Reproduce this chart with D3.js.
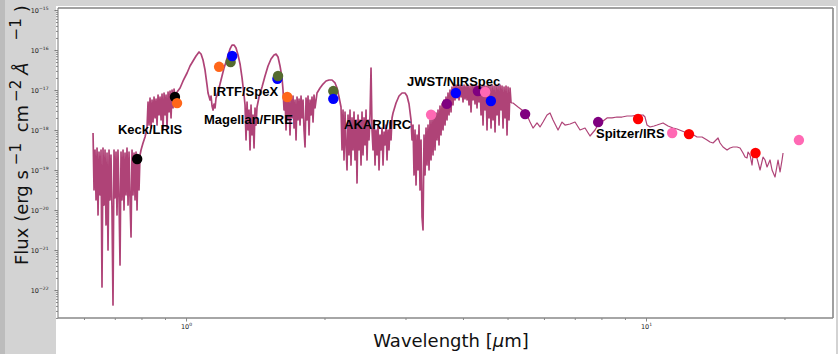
<!DOCTYPE html>
<html>
<head>
<meta charset="utf-8">
<script src="https://cdn.jsdelivr.net/npm/d3@7"></script>
<style>
  html, body { margin: 0; padding: 0; background: #fff; }
  svg { display: block; }
</style>
</head>
<body>
<svg id="chart" width="838" height="354"></svg>
<script>
// Model spectrum: wavelength (micron) and flux density (erg s^-1 cm^-2 A^-1)
const specWave = [
  0.6278,0.6309,0.6341,0.6373,0.6405,0.6437,0.6469,0.6501,0.6534,0.6566,
  0.6599,0.6633,0.6666,0.6699,0.6733,0.6767,0.6801,0.6834,0.6868,0.6903,
  0.6938,0.6973,0.7007,0.7043,0.7078,0.7113,0.7149,0.7186,0.7222,0.7258,
  0.7295,0.7331,0.7368,0.7405,0.7442,0.7480,0.7517,0.7555,0.7593,0.7631,
  0.7669,0.7708,0.7747,0.7786,0.7825,0.7864,0.7903,0.7943,
  0.7983,0.8063,0.8144,0.8226,0.8268,0.8309,0.8351,0.8393,0.8435,0.8477,
  0.8520,0.8563,0.8606,0.8649,0.8692,0.8736,0.8780,0.8824,0.8868,0.8913,
  0.8958,0.9003,0.9048,0.9093,0.9139,0.9185,0.9231,0.9277,0.9324,0.9371,
  0.9418,0.9465,0.9560,0.9705,0.9852,1.0051,1.0202,1.0356,1.0513,1.0672,
  1.0780,1.0888,1.0998,1.1109,1.1164,1.1277,1.1334,1.1390,1.1448,1.1505,
  1.1563,1.1621,1.1737,1.1855,1.1974,1.2095,1.2216,1.2339,1.2464,1.2589,
  1.2716,1.2844,1.2973,1.3104,1.3236,1.3369,
  1.3436,1.3504,1.3572,1.3640,1.3708,1.3776,1.3845,1.3915,1.3985,1.4055,
  1.4125,1.4196,1.4268,1.4411,1.4629,1.4850,1.5075,1.5303,1.5535,1.5692,
  1.5849,1.6008,1.6169,1.6250,
  1.6332,1.6414,1.6496,1.6579,1.6662,1.6746,1.6830,1.6914,1.7000,1.7085,
  1.7171,1.7257,1.7344,1.7431,1.7518,1.7606,1.7694,1.7783,1.7872,1.7962,
  1.8052,1.8143,1.8234,1.8325,1.8417,1.8510,1.8602,1.8696,1.8789,1.8884,
  1.8978,1.9074,1.9265,1.9557,1.9853,2.0154,2.0458,2.0768,2.1081,2.1294,
  2.1508,2.1724,
  2.1833,2.1943,2.2053,2.2164,2.2275,2.2387,2.2500,2.2613,2.2725,2.2839,
  2.2954,2.3069,2.3185,2.3301,2.3418,2.3536,2.3654,2.3773,2.3892,2.4012,
  2.4132,2.4254,2.4375,2.4498,2.4621,2.4744,2.4869,2.4993,2.5119,2.5245,
  2.5372,2.5499,2.5627,2.5756,2.5885,2.6015,2.6145,2.6277,2.6408,2.6541,
  2.6674,2.6808,2.6943,2.7078,2.7214,2.7350,2.7487,2.7625,2.7764,2.7903,
  2.8043,2.8184,
  2.8612,2.9044,2.9483,2.9929,3.0231,3.0535,3.0842,3.0997,3.1152,3.1309,
  3.1466,3.1624,3.1783,3.1942,3.2102,3.2263,3.2425,3.2588,3.2751,3.2915,
  3.3081,3.3247,3.3414,3.3581,3.3750,3.3919,3.4089,3.4260,3.4432,3.4605,
  3.4779,3.4953,3.5128,3.5305,3.5482,3.5660,
  3.5839,3.6019,3.6199,3.6381,3.6564,3.6747,3.6931,3.7117,3.7303,3.7491,
  3.7679,3.7868,3.8058,3.8249,3.8441,3.8634,3.8828,3.9023,3.9219,3.9415,
  3.9613,3.9812,4.0012,4.0212,4.0414,4.0617,4.0821,4.1026,4.1232,4.1439,
  4.1647,4.1856,4.2066,4.2277,4.2490,4.2703,4.2917,4.3133,4.3349,4.3566,
  4.3785,4.4005,4.4226,4.4448,4.4671,4.4895,4.5120,4.5347,4.5574,4.5803,
  4.6033,4.6264,4.6497,4.6730,4.6965,4.7200,4.7437,4.7675,4.7914,4.8154,
  4.8396,4.8639,4.8883,4.9129,4.9375,4.9623,4.9872,5.0123,5.0374,5.0626,
  5.0880,
  5.1394,5.2696,5.3761,5.4849,5.5958,5.6805,5.7955,5.8831,5.9722,6.0930,
  6.1851,6.2787,6.4379,6.5681,6.6675,6.8364,7.0098,7.1874,7.3697,7.5563,
  7.7479,7.9047,8.0646,8.2278,8.4362,8.6501,8.8693,9.0942,9.3247,9.5611,
  9.8525,9.9517,10.052,10.204,10.411,10.568,10.727,10.889,11.166,11.449,
  11.680,11.976,12.280,12.592,12.911,13.238,13.574,13.779,13.988,14.199,
  14.342,14.486,14.705,15.003,15.230,15.461,15.773,16.012,16.254,16.418,
  16.583,16.667,16.834,17.004,17.089,17.348,17.522,17.698,17.966,18.147,
  18.329,18.606,18.793,19.078,19.367,19.562,19.759,19.858
];
const specFlux = [
  8.41e-19,3.16e-20,3.16e-19,1.78e-20,3.55e-19,7.50e-21,2.82e-19,2.37e-20,3.16e-19,1.19e-22,
  3.55e-19,1.33e-20,3.16e-19,4.22e-21,2.66e-19,1e-21,3.16e-19,1.78e-20,2.37e-19,1e-20,
  4.22e-23,3.16e-19,2.00e-20,2.82e-19,7.50e-21,3.16e-19,2.24e-20,4.22e-22,2.82e-19,1.78e-20,
  3.16e-19,1e-20,2.66e-19,2.37e-20,3.55e-19,1.33e-20,2.82e-19,1.78e-20,2.11e-21,3.16e-19,
  2.37e-20,2.66e-19,1.78e-20,2.82e-19,1e-20,2.24e-19,3.16e-20,2.37e-19,
  3.16e-19,4.73e-19,6.68e-19,1.12e-18,5.01e-18,1.33e-18,6.31e-18,1.12e-18,5.62e-18,1.58e-18,
  6.68e-18,2.00e-18,5.96e-18,1.33e-18,7.50e-18,2.37e-18,6.68e-18,1.78e-18,7.94e-18,1e-18,
  8.41e-18,2.37e-18,7.50e-18,1.12e-18,8.91e-18,2.82e-18,9.44e-18,2.00e-18,1e-17,3.55e-18,
  1.06e-17,5.62e-18,8.91e-18,1.12e-17,1.68e-17,2.66e-17,3.98e-17,5.31e-17,7.08e-17,8.91e-17,
  7.94e-17,5.62e-17,3.16e-17,1.33e-17,8.41e-18,5.62e-18,7.08e-18,3.98e-18,3.16e-18,4.47e-18,
  3.55e-18,6.31e-18,8.91e-18,1.41e-17,2.24e-17,3.55e-17,5.01e-17,7.50e-17,1.06e-16,1.33e-16,
  1.33e-16,1.12e-16,7.50e-17,4.47e-17,2.00e-17,7.50e-18,
  4.22e-18,5.62e-19,5.01e-18,1e-18,3.16e-18,3.16e-19,4.22e-18,7.50e-19,2.37e-18,3.55e-19,
  3.55e-18,1.33e-18,3.76e-18,6.68e-18,1.19e-17,2.24e-17,3.98e-17,5.96e-17,7.50e-17,7.94e-17,
  6.68e-17,3.98e-17,2.00e-17,1e-17,
  3.16e-18,7.50e-18,1e-18,6.68e-18,1.78e-18,5.62e-18,7.50e-19,6.31e-18,2.00e-18,7.08e-18,
  1.12e-18,5.62e-18,5.62e-19,6.68e-18,1.78e-18,5.96e-18,1.33e-18,7.08e-18,2.00e-18,5.62e-18,
  1e-18,3.76e-19,6.31e-18,1.78e-18,7.08e-18,7.50e-19,5.62e-18,2.37e-18,6.68e-18,1.58e-18,
  7.50e-18,3.55e-18,8.41e-18,1.12e-17,1.41e-17,1.68e-17,1.78e-17,1.78e-17,1.50e-17,1.12e-17,
  6.68e-18,3.76e-18,
  3.16e-19,3.16e-18,1.78e-19,2.82e-18,4.22e-19,1e-19,2.37e-18,2.37e-19,3.16e-18,1.33e-19,
  2.00e-18,3.16e-19,2.82e-18,1.78e-19,1.78e-18,4.73e-20,2.37e-18,3.16e-19,1.78e-18,1.33e-19,
  2.82e-18,2.37e-19,2.00e-18,4.22e-19,3.16e-18,1.78e-19,1.78e-18,5.62e-19,2.37e-18,3.55e-17,
  1e-18,3.16e-19,1.78e-18,1.33e-19,1e-18,2.37e-19,1.33e-18,1e-19,7.50e-19,3.16e-19,
  1.12e-18,1.33e-19,8.91e-19,4.22e-19,1.33e-18,1.78e-19,1e-18,3.16e-19,1.58e-18,5.62e-19,
  2.00e-18,2.66e-18,
  4.73e-18,7.08e-18,8.41e-18,8.41e-18,7.08e-18,4.47e-18,1.78e-18,5.62e-19,1.33e-18,7.50e-20,
  1e-18,4.22e-20,7.50e-19,1e-19,1.33e-18,3.16e-20,5.62e-19,6.68e-21,3.16e-21,7.50e-19,
  7.50e-20,1.12e-18,1.33e-19,1.33e-18,1e-19,1.78e-18,1.78e-19,2.00e-18,2.37e-19,2.37e-18,
  3.16e-19,2.66e-18,5.62e-19,3.16e-18,4.22e-19,3.98e-18,
  7.50e-19,4.47e-18,1e-18,5.62e-18,1.33e-18,6.68e-18,1.78e-18,8.41e-18,2.37e-18,1e-17,
  2.82e-18,1.19e-17,4.22e-18,1.26e-17,5.62e-18,1.33e-17,6.31e-18,1.26e-17,5.62e-18,1.33e-17,
  6.68e-18,1.26e-17,5.01e-18,1.33e-17,5.96e-18,1.26e-17,5.62e-18,1.33e-17,4.22e-18,1.26e-17,
  2.82e-18,1.33e-17,5.62e-18,1.26e-17,4.47e-18,1.33e-17,3.55e-18,1.26e-17,5.01e-18,1.33e-17,
  2.37e-18,1.26e-17,1.33e-18,1.33e-17,3.16e-18,1.26e-17,1e-18,1.33e-17,2.00e-18,1.26e-17,
  1.12e-18,1.33e-17,1.78e-18,1.26e-17,8.91e-19,1.33e-17,2.37e-18,1.26e-17,1.33e-18,1.33e-17,
  3.16e-18,1.26e-17,1.12e-18,1.19e-17,2.00e-18,1.26e-17,7.50e-19,1.19e-17,1.78e-18,1.12e-17,
  4.73e-18,
  4.73e-18,3.76e-18,3.16e-18,2.66e-18,1.58e-18,1.12e-18,1.50e-18,1.19e-18,1.58e-18,2.37e-18,
  2.66e-18,1.78e-18,1e-18,1.58e-18,1.33e-18,1.41e-18,1.58e-18,1e-18,1.12e-18,7.08e-19,
  1e-18,1.50e-18,1.68e-18,2.00e-18,2.00e-18,2.11e-18,2.11e-18,2.24e-18,2.24e-18,2.37e-18,
  2.37e-18,2.11e-18,1.33e-18,1.19e-18,1.26e-18,1.33e-18,1.41e-18,1.50e-18,1.26e-18,1.12e-18,
  1.06e-18,9.44e-19,8.41e-19,7.94e-19,6.68e-19,6.68e-19,5.62e-19,5.01e-19,4.73e-19,5.62e-19,
  6.31e-19,4.73e-19,3.76e-19,3.16e-19,3.55e-19,3.76e-19,3.76e-19,3.55e-19,2.66e-19,2.11e-19,
  2.00e-19,2.82e-19,2.37e-19,1.33e-19,2.37e-19,2.37e-19,1.58e-19,1e-19,2.11e-19,1.78e-19,
  1.19e-19,1.78e-19,1e-19,6.68e-20,1.78e-19,8.91e-20,1.78e-19,2.66e-19
];
// the spectrograph data (dense, noisy) end here; the IRS part follows
const denseEndWave = 5.0880;

// Photometric points: wavelength, flux and the catalogue each one comes from
const photWave = [0.783, 0.946, 0.956, 1.18, 1.25, 1.26, 1.58, 1.585, 1.66, 2.09, 2.09,
                  3.41, 3.69, 3.86, 4.31, 4.47, 4.60, 5.46, 7.87, 9.61, 11.4, 12.4, 17.3, 21.5];
const photFlux = [1.88e-19, 6.7e-18, 4.7e-18, 3.8e-17, 5.0e-17, 7.1e-17, 1.9e-17, 2.24e-17, 6.7e-18, 9.4e-18, 6.0e-18,
                  2.4e-18, 4.5e-18, 8.4e-18, 9.4e-18, 8.9e-18, 5.3e-18, 2.5e-18, 1.58e-18, 1.88e-18, 8.4e-19, 7.9e-19, 2.66e-19, 5.6e-19];
const photSet  = ['s1','s1','s2','s2','s3','s4','s4','s3','s2','s3','s4',
                  's6','s5','s4','s5','s6','s4','s5','s5','s7','s6','s7','s7','s6'];

// Instrument annotations (left edge and baseline in data units)
const labelText = ['Keck/LRIS', 'IRTF/SpeX', 'Magellan/FIRE', 'AKARI/IRC', 'JWST/NIRSpec', 'Spitzer/IRS'];
const labelWave = [0.711, 1.145, 1.094, 2.206, 3.023, 7.785];
const labelFlux = [7.94e-19, 7.08e-18, 1.41e-18, 1.06e-18, 1.26e-17, 6.31e-19];

// Axis ticks
const xMajorTicks = [1, 10];
const xMinorTicks = [0.6, 0.7, 0.8, 0.9, 2, 3, 4, 5, 6, 7, 8, 9, 20];
const yMajorTicks = [1e-22, 1e-21, 1e-20, 1e-19, 1e-18, 1e-17, 1e-16, 1e-15];

const setColor = d3.scaleOrdinal()
  .domain(['s1','s2','s3','s4','s5','s6','s7'])
  .range(['#000000','#ff661a','#556b2f','#0000ff','#800080','#ff69b4','#ff0000']);

const svg = d3.select('#chart');
const X0 = 58, X1 = 833, Y0 = 8, Y1 = 318;

const x = d3.scaleLog().domain([0.5268, 25.5]).range([X0, X1]);
const y = d3.scaleLog().domain([Math.pow(10, -22.7), Math.pow(10, -14.95)]).range([Y1, Y0]);

// page background and white plotting region
svg.append('rect').attr('width', 838).attr('height', 354).attr('fill', '#d3d3d3');
svg.append('rect').attr('x', 0).attr('y', 0).attr('width', 5).attr('height', 354).attr('fill', '#bcbcbc');
svg.append('rect').attr('x', 56).attr('y', 6).attr('width', 780).attr('height', 348).attr('fill', '#ffffff');

svg.append('defs').append('clipPath').attr('id', 'plotclip')
  .append('rect').attr('x', X0).attr('y', Y0).attr('width', X1 - X0).attr('height', Y1 - Y0);

// spectrum: the dense spectrograph part and the sparser mid-IR part
const spectrum = d3.zip(specWave, specFlux);
const line = d3.line().x(d => x(d[0])).y(d => y(d[1]));
const specG = svg.append('g').attr('clip-path', 'url(#plotclip)');
specG.append('path')
  .datum(spectrum.filter(d => d[0] <= denseEndWave))
  .attr('d', line)
  .attr('fill', 'none')
  .attr('stroke', '#a8336b')
  .attr('stroke-opacity', 0.92)
  .attr('stroke-width', 1.7)
  .attr('stroke-linejoin', 'round');
specG.append('path')
  .datum(spectrum.filter(d => d[0] >= denseEndWave))
  .attr('d', line)
  .attr('fill', 'none')
  .attr('stroke', '#a8336b')
  .attr('stroke-opacity', 0.92)
  .attr('stroke-width', 1.2)
  .attr('stroke-linejoin', 'round');

// photometry
const phot = d3.range(photWave.length).map(i => ({w: photWave[i], f: photFlux[i], s: photSet[i]}));
svg.append('g').selectAll('circle')
  .data(phot)
  .join('circle')
  .attr('cx', d => x(d.w))
  .attr('cy', d => y(d.f))
  .attr('r', 5.2)
  .attr('fill', d => setColor(d.s));

// instrument labels
svg.append('g').selectAll('text')
  .data(labelText)
  .join('text')
  .attr('x', (d, i) => x(labelWave[i]))
  .attr('y', (d, i) => y(labelFlux[i]))
  .attr('font-family', '"Liberation Sans", Arial, sans-serif')
  .attr('font-weight', 'bold')
  .attr('font-size', 13)
  .attr('fill', '#000')
  .text(d => d);

// axes
function powerLabel(sel, baseSize, supSize, rise) {
  sel.selectAll('.tick text').each(function(d) {
    const t = d3.select(this);
    const e = Math.round(Math.log10(d));
    t.text(null);
    t.append('tspan').text('10');
    t.append('tspan').attr('dy', -rise).attr('font-size', supSize).text(e < 0 ? '\u2212' + Math.abs(e) : String(e));
  });
  sel.selectAll('.tick text').attr('font-size', baseSize).attr('fill', '#222')
     .attr('font-family', '"DejaVu Sans", sans-serif');
}

const yMinorTicks = [];
for (let e = -23; e <= -15; e++) for (let m = 2; m <= 9; m++) yMinorTicks.push(m * Math.pow(10, e));

const gyMinor = svg.append('g').attr('transform', `translate(${X0},0)`)
  .call(d3.axisLeft(y).tickValues(yMinorTicks.filter(v => v > y.domain()[0] && v < y.domain()[1])).tickSize(2).tickFormat(''));
const gyMajor = svg.append('g').attr('transform', `translate(${X0},0)`)
  .call(d3.axisLeft(y).tickValues(yMajorTicks).tickSize(3.5).tickPadding(6));
powerLabel(gyMajor, 6.5, 4.5, 3);

const gxMinor = svg.append('g').attr('transform', `translate(0,${Y1})`)
  .call(d3.axisBottom(x).tickValues(xMinorTicks).tickSize(2).tickFormat(''));
const gxMajor = svg.append('g').attr('transform', `translate(0,${Y1})`)
  .call(d3.axisBottom(x).tickValues(xMajorTicks).tickSize(3.5).tickPadding(3));
powerLabel(gxMajor, 6.5, 4.5, 3);

[gyMinor, gyMajor, gxMinor, gxMajor].forEach(g => {
  g.select('.domain').remove();
  g.selectAll('.tick line').attr('stroke', '#555').attr('stroke-width', 0.7);
});

// frame
svg.append('line').attr('x1', X0).attr('x2', X1).attr('y1', Y0).attr('y2', Y0).attr('stroke', '#444').attr('stroke-width', 1);
svg.append('line').attr('x1', X0).attr('x2', X0).attr('y1', Y0).attr('y2', Y1).attr('stroke', '#777').attr('stroke-width', 1);
svg.append('line').attr('x1', X0).attr('x2', X1).attr('y1', Y1).attr('y2', Y1).attr('stroke', '#888').attr('stroke-width', 1.6);
svg.append('line').attr('x1', X1).attr('x2', X1).attr('y1', Y0).attr('y2', Y1).attr('stroke', '#888').attr('stroke-width', 1.6);

// axis titles
const xt = svg.append('text')
  .attr('x', 451).attr('y', 347)
  .attr('text-anchor', 'middle')
  .attr('font-family', '"DejaVu Sans", sans-serif')
  .attr('font-size', 18)
  .attr('fill', '#111');
xt.append('tspan').text('Wavelength [');
xt.append('tspan').attr('font-style', 'italic').text('\u03bc');
xt.append('tspan').text('m]');

const yt = svg.append('text')
  .attr('transform', 'translate(28,265) rotate(-90)')
  .attr('text-anchor', 'start')
  .attr('font-family', '"DejaVu Sans", sans-serif')
  .attr('font-size', 18)
  .attr('fill', '#111');
yt.append('tspan').text('Flux (erg s');
yt.append('tspan').attr('dy', -7).attr('dx', 5).attr('font-size', 15).text('\u22121');
yt.append('tspan').attr('dy', 7).attr('dx', 5).text(' cm');
yt.append('tspan').attr('dy', -7).attr('dx', 3).attr('font-size', 15).text('\u22122');
yt.append('tspan').attr('dy', 7).attr('dx', 5).attr('font-style', 'italic').text('\u00c5');
yt.append('tspan').attr('dy', -7).attr('dx', 22).attr('font-size', 15).text('\u22121');
yt.append('tspan').attr('dy', 7).attr('dx', 6).text(')');
</script>
</body>
</html>
